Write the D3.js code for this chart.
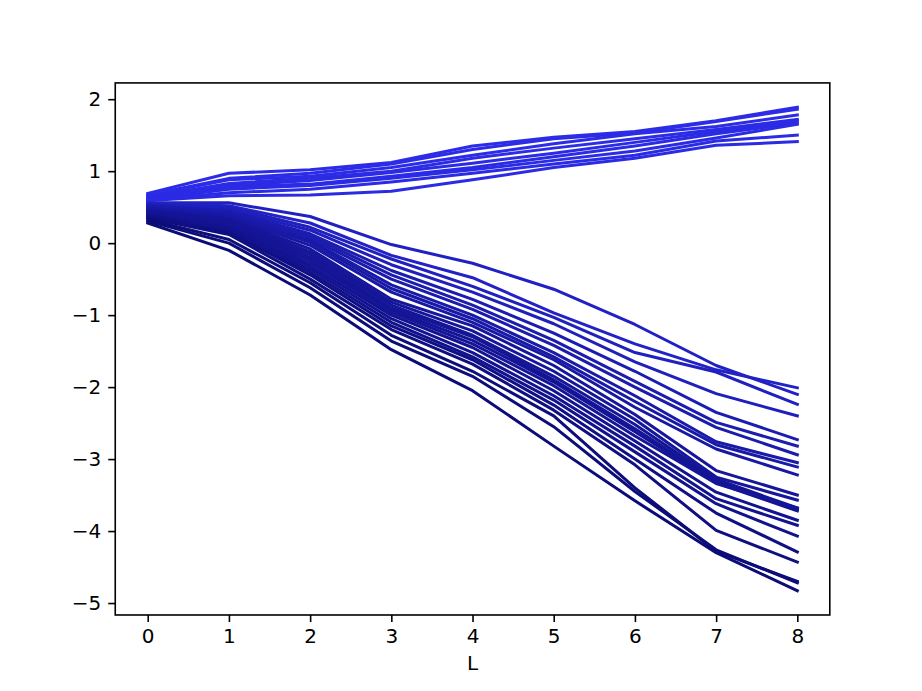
<!DOCTYPE html>
<html>
<head>
<meta charset="utf-8">
<script src="https://cdn.jsdelivr.net/npm/d3@7"></script>
<style>
  body { margin: 0; background: #fff; }
  svg { display: block; }
  text { font-family: "DejaVu Sans", sans-serif; font-size: 20px; fill: #000; }
</style>
</head>
<body>
<svg width="922" height="691"></svg>
<script>
// layer index along x
const layers = [0, 1, 2, 3, 4, 5, 6, 7, 8];
const xTickLabels = ["0", "1", "2", "3", "4", "5", "6", "7", "8"];
const yTicks = [-5, -4, -3, -2, -1, 0, 1, 2];
const xLabel = "L";

// lines that go up
const upperLines = [
  [0.69, 0.97, 1.02, 1.12, 1.35, 1.47, 1.55, 1.70, 1.89],
  [0.67, 0.90, 0.97, 1.10, 1.30, 1.45, 1.53, 1.69, 1.86],
  [0.66, 0.88, 0.93, 1.05, 1.22, 1.38, 1.52, 1.62, 1.78],
  [0.64, 0.83, 0.90, 1.00, 1.18, 1.32, 1.45, 1.58, 1.72],
  [0.63, 0.80, 0.87, 0.98, 1.11, 1.25, 1.40, 1.55, 1.70],
  [0.62, 0.78, 0.82, 0.93, 1.05, 1.20, 1.35, 1.52, 1.67],
  [0.61, 0.75, 0.80, 0.90, 1.02, 1.15, 1.28, 1.46, 1.65],
  [0.60, 0.70, 0.75, 0.85, 0.97, 1.10, 1.22, 1.42, 1.50],
  [0.59, 0.66, 0.67, 0.72, 0.88, 1.05, 1.18, 1.36, 1.41]
];

// lines that go down
const lowerLines = [
  [0.56, 0.56, 0.37, -0.02, -0.28, -0.64, -1.13, -1.70, -2.10],
  [0.55, 0.52, 0.28, -0.17, -0.48, -0.97, -1.40, -1.76, -2.01],
  [0.54, 0.50, 0.22, -0.22, -0.60, -1.03, -1.52, -1.79, -2.24],
  [0.53, 0.47, 0.18, -0.30, -0.68, -1.12, -1.65, -2.09, -2.40],
  [0.52, 0.45, 0.13, -0.38, -0.78, -1.25, -1.78, -2.35, -2.73],
  [0.51, 0.43, 0.10, -0.44, -0.86, -1.35, -1.92, -2.49, -2.82],
  [0.50, 0.42, 0.07, -0.50, -0.92, -1.42, -2.00, -2.56, -2.94],
  [0.49, 0.40, 0.04, -0.58, -1.00, -1.52, -2.12, -2.76, -3.05],
  [0.48, 0.38, 0.01, -0.63, -1.05, -1.58, -2.20, -2.80, -3.11],
  [0.47, 0.36, -0.03, -0.68, -1.10, -1.62, -2.28, -2.86, -3.22],
  [0.46, 0.34, -0.08, -0.78, -1.15, -1.70, -2.38, -3.16, -3.50],
  [0.45, 0.32, -0.12, -0.82, -1.22, -1.78, -2.45, -3.25, -3.57],
  [0.44, 0.30, -0.16, -0.86, -1.28, -1.85, -2.52, -3.28, -3.68],
  [0.43, 0.28, -0.20, -0.90, -1.30, -1.90, -2.58, -3.30, -3.70],
  [0.42, 0.26, -0.24, -0.93, -1.35, -1.93, -2.62, -3.33, -3.72],
  [0.41, 0.24, -0.28, -0.96, -1.40, -1.98, -2.68, -3.34, -3.68],
  [0.40, 0.22, -0.32, -1.00, -1.45, -2.05, -2.75, -3.46, -3.85],
  [0.39, 0.20, -0.36, -1.05, -1.52, -2.12, -2.82, -3.55, -3.92],
  [0.38, 0.17, -0.40, -1.10, -1.58, -2.18, -2.90, -3.62, -4.07],
  [0.37, 0.15, -0.44, -1.15, -1.62, -2.25, -3.00, -3.75, -4.29],
  [0.35, 0.12, -0.50, -1.20, -1.68, -2.32, -3.08, -3.99, -4.43],
  [0.33, 0.05, -0.55, -1.28, -1.78, -2.40, -3.40, -4.28, -4.70],
  [0.31, 0.00, -0.62, -1.36, -1.85, -2.55, -3.45, -4.26, -4.72],
  [0.28, -0.10, -0.72, -1.48, -2.05, -2.82, -3.58, -4.30, -4.83]
];

const svg = d3.select("svg"),
    width = +svg.attr("width"),
    height = +svg.attr("height");

// matplotlib default subplot box
const plotLeft = width * 0.125, plotRight = width * 0.9,
    plotTop = height * 0.12, plotBottom = height * 0.89;

const allLines = upperLines.concat(lowerLines);
const [yMin, yMax] = d3.extent(allLines.flat());
const yPad = (yMax - yMin) * 0.05;

const x = d3.scaleLinear().domain([-0.4, 8.4]).range([plotLeft, plotRight]);
const y = d3.scaleLinear().domain([yMin - yPad, yMax + yPad]).range([plotBottom, plotTop]);

const color = d3.scaleLinear()
    .domain([-4.8, -2.0, 1.9])
    .range(["#0c0c78", "#2222c6", "#2c2ce8"])
    .clamp(true);

const line = d3.line()
    .x((d, i) => x(layers[i]))
    .y(d => y(d));

svg.append("g")
    .attr("class", "lines")
    .selectAll("path")
    .data(allLines)
    .enter().append("path")
    .attr("d", line)
    .attr("fill", "none")
    .attr("stroke", d => color(d[d.length - 1]))
    .attr("stroke-width", 3)
    .attr("stroke-linejoin", "round")
    .attr("stroke-linecap", "square");

const tick = 7;

const xAxis = svg.append("g")
    .attr("transform", `translate(0,${plotBottom})`)
    .call(d3.axisBottom(x)
        .tickValues(layers)
        .tickFormat((d, i) => xTickLabels[i])
        .tickSize(tick)
        .tickSizeOuter(0)
        .tickPadding(7));

const yAxis = svg.append("g")
    .attr("transform", `translate(${plotLeft},0)`)
    .call(d3.axisLeft(y)
        .tickValues(yTicks)
        .tickFormat(d => d < 0 ? "\u2212" + Math.abs(d) : String(d))
        .tickSize(tick)
        .tickSizeOuter(0)
        .tickPadding(7));

[xAxis, yAxis].forEach(g => {
  g.select(".domain").remove();
  g.selectAll(".tick line").attr("stroke", "#000").attr("stroke-width", 1.6);
  g.selectAll(".tick text").attr("fill", "#000")
      .style("font-family", "DejaVu Sans").style("font-size", "20px");
});

svg.append("rect")
    .attr("x", plotLeft)
    .attr("y", plotTop)
    .attr("width", plotRight - plotLeft)
    .attr("height", plotBottom - plotTop)
    .attr("fill", "none")
    .attr("stroke", "#000")
    .attr("stroke-width", 1.6);

svg.append("text")
    .attr("x", (plotLeft + plotRight) / 2)
    .attr("y", 670)
    .attr("text-anchor", "middle")
    .text(xLabel);
</script>
</body>
</html>
